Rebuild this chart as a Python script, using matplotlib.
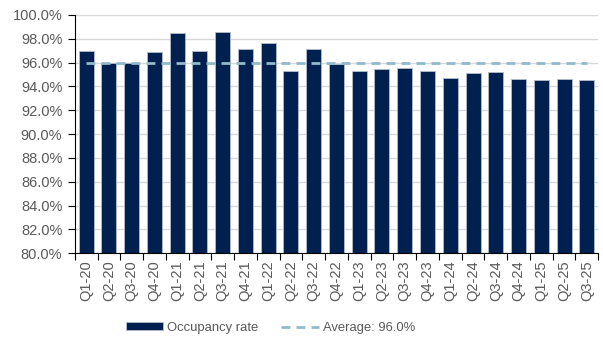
import numpy as np
import matplotlib.pyplot as plt
from matplotlib.ticker import FuncFormatter, FixedLocator

plt.rcParams['font.family'] = ['Liberation Sans', 'DejaVu Sans']

# 季度與入住率數據
quarters = ['Q1-20', 'Q2-20', 'Q3-20', 'Q4-20', 'Q1-21', 'Q2-21', 'Q3-21', 'Q4-21',
            'Q1-22', 'Q2-22', 'Q3-22', 'Q4-22', 'Q1-23', 'Q2-23', 'Q3-23', 'Q4-23',
            'Q1-24', 'Q2-24', 'Q3-24', 'Q4-24', 'Q1-25', 'Q2-25', 'Q3-25']
occupancy = [97.0, 96.0, 96.0, 96.9, 98.5, 97.0, 98.6, 97.1,
             97.6, 95.3, 97.1, 95.9, 95.25, 95.45, 95.5, 95.3,
             94.7, 95.1, 95.2, 94.6, 94.55, 94.6, 94.5]
average = 96.0

navy = '#002150'
avg_color = '#92BACB'
text_gray = '#595959'

fig = plt.figure(figsize=(6.03, 3.38), dpi=100)
ax = fig.add_axes([0.124, 0.251, 0.868, 0.705])

x = np.arange(len(quarters))
bars = ax.bar(x, occupancy, width=0.66, color=navy, edgecolor='#B4BDCB', linewidth=0.6,
              label='Occupancy rate', zorder=2)
avg_line, = ax.plot(x, [average] * len(x), color=avg_color, linestyle=(0, (3.2, 2.2)),
                    linewidth=2, label=f'Average: {average:.1f}%', zorder=3)

ax.set_ylim(80, 100)
ax.set_xlim(-0.5, len(x) - 0.5)
ax.set_yticks(np.arange(80, 100.1, 2))
ax.yaxis.set_major_formatter(FuncFormatter(lambda v, p: f'{v:.1f}%'))
ax.grid(axis='y', color='#D9D9D9', linewidth=1, zorder=0)
ax.set_axisbelow(True)

# x 軸刻度放在類別之間，標籤置中
ax.xaxis.set_major_locator(FixedLocator(np.arange(-0.5, len(x), 1)))
ax.xaxis.set_major_formatter(FuncFormatter(lambda v, p: ''))
ax.set_xticks(x, minor=True)
ax.set_xticklabels(quarters, minor=True, rotation=90)
ax.tick_params(axis='x', which='minor', length=0, pad=5, labelsize=10.5, labelcolor=text_gray)
ax.tick_params(axis='x', which='major', length=5, width=0.8, direction='out')
ax.tick_params(axis='y', length=5, width=0.8, labelsize=10.5, labelcolor=text_gray, pad=4)

for side in ['top', 'right']:
    ax.spines[side].set_visible(False)
ax.spines['left'].set_color('black')
ax.spines['bottom'].set_color('black')

fig.legend(handles=[bars, avg_line], loc='center', bbox_to_anchor=(0.448, 0.03), ncol=2,
           frameon=False, fontsize=9.4, handlelength=2.9, handleheight=0.55,
           columnspacing=1.7, handletextpad=0.3, labelcolor=text_gray)

fig.savefig('out.png', dpi=100)
